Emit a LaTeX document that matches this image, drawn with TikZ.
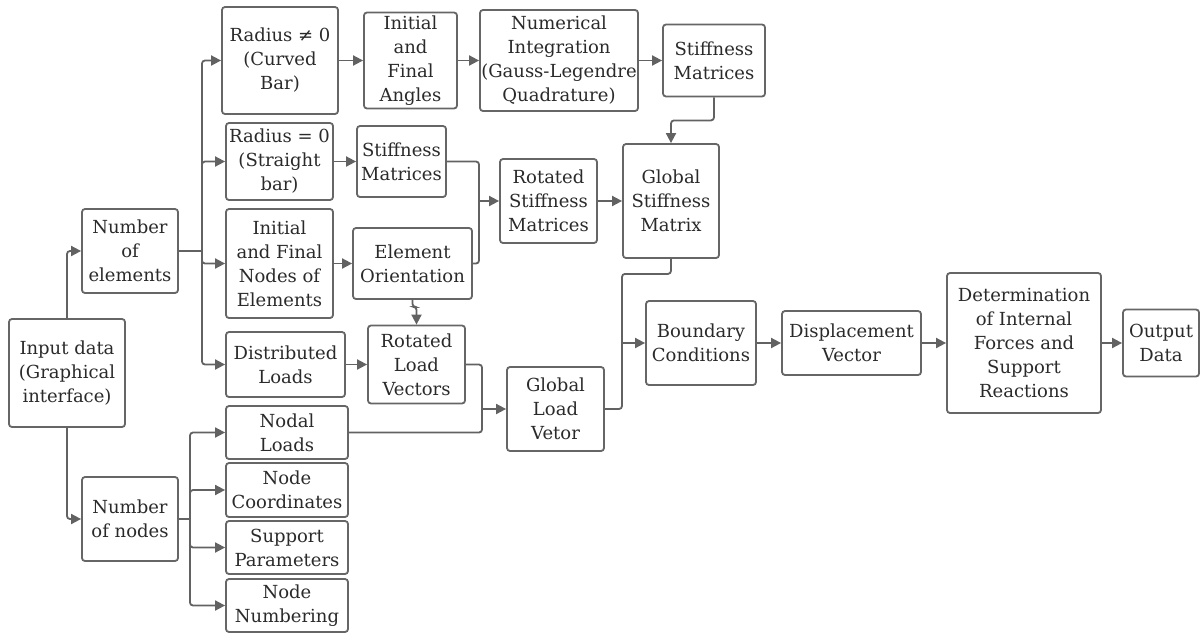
\documentclass[tikz,border=0pt]{standalone}
\usepackage{fontspec}
\setmainfont{DejaVu Serif}
\usetikzlibrary{arrows.meta}
\definecolor{boxline}{HTML}{666666}
\definecolor{txt}{HTML}{2A2A2A}
\definecolor{conncol}{HTML}{626262}
\tikzset{
  box/.style={draw=boxline, line width=1.8pt, rounded corners=3pt, align=center,
    text=txt, inner sep=1pt, font=\fontsize{18}{24}\selectfont},
  link/.style={draw=conncol, line width=1.8pt, rounded corners=3pt},
  conn/.style={link, -{Triangle[length=10pt,width=10pt]}}
}
\begin{document}
\begin{tikzpicture}[x=1pt,y=-1pt]
\useasboundingbox (0,0) rectangle (1204,635);
% nodes
\node[box, minimum width=116pt, minimum height=108pt] (inp) at (67,373) {Input data\\(Graphical\\interface)};
\node[box, minimum width=96pt, minimum height=84pt] (nel) at (130,251) {Number\\of\\elements};
\node[box, minimum width=96pt, minimum height=84pt] (nno) at (130,519) {Number\\of nodes};
\node[box, minimum width=116pt, minimum height=107pt] (r1) at (280,60.5) {Radius ≠ 0\\(Curved\\Bar)};
\node[box, minimum width=107pt, minimum height=77pt] (r0) at (279.5,161.5) {Radius = 0\\(Straight\\bar)};
\node[box, minimum width=107pt, minimum height=109pt] (ifn) at (279.5,263.5) {Initial\\and Final\\Nodes of\\Elements};
\node[box, minimum width=119pt, minimum height=65pt] (dl) at (285.5,364.5) {Distributed\\Loads};
\node[box, minimum width=122pt, minimum height=53pt] (nl) at (287,432.5) {Nodal\\Loads};
\node[box, minimum width=122pt, minimum height=54pt] (nc) at (287,490) {Node\\Coordinates};
\node[box, minimum width=122pt, minimum height=53pt] (sp) at (287,547.5) {Support\\Parameters};
\node[box, minimum width=122pt, minimum height=53pt] (nn) at (287,605.5) {Node\\Numbering};
\node[box, minimum width=93pt, minimum height=96pt] (ia) at (410.5,60.5) {Initial\\and\\Final\\Angles};
\node[box, minimum width=158pt, minimum height=101pt] (ni) at (559,60.5) {Numerical\\Integration\\(Gauss-Legendre\\Quadrature)};
\node[box, minimum width=102pt, minimum height=72pt] (sm1) at (714,60.5) {Stiffness\\Matrices};
\node[box, minimum width=89pt, minimum height=71pt] (sm2) at (401.5,161.5) {Stiffness\\Matrices};
\node[box, minimum width=119pt, minimum height=71pt] (eo) at (412.5,263.5) {Element\\Orientation};
\node[box, minimum width=97pt, minimum height=84pt] (rsm) at (548.5,201) {Rotated\\Stiffness\\Matrices};
\node[box, minimum width=96pt, minimum height=114pt] (gsm) at (671,201) {Global\\Stiffness\\Matrix};
\node[box, minimum width=97pt, minimum height=78pt] (rlv) at (416.5,364.5) {Rotated\\Load\\Vectors};
\node[box, minimum width=97pt, minimum height=84pt] (glv) at (555.5,409) {Global\\Load\\Vetor};
\node[box, minimum width=110pt, minimum height=84pt] (bc) at (701,343) {Boundary\\Conditions};
\node[box, minimum width=139pt, minimum height=64pt] (dv) at (851.5,343) {Displacement\\Vector};
\node[box, minimum width=154pt, minimum height=140pt] (det) at (1024,343) {Determination\\of Internal\\Forces and\\Support\\Reactions};
\node[box, minimum width=76pt, minimum height=67pt] (out) at (1161,343) {Output\\Data};
% junctions
\coordinate (t1) at (202,251);
\coordinate (t2) at (190,519);
\coordinate (j1) at (479,201);
\coordinate (j2) at (482,409);
\coordinate (j3) at (622,343);
% connectors
\draw[conn] (inp.north) |- (nel.west);
\draw[conn] (inp.south) |- (nno.west);
\draw[link] (nel.east) -- (t1);
\draw[conn] (t1) |- (r1.west);
\draw[conn] (t1) |- (r0.west);
\draw[conn] (t1) |- (ifn.west);
\draw[conn] (t1) |- (dl.west);
\draw[link] (nno.east) -- (t2);
\draw[conn] (t2) |- (nl.west);
\draw[conn] (t2) |- (nc.west);
\draw[conn] (t2) |- (sp.west);
\draw[conn] (t2) |- (nn.west);
\draw[conn] (r1) -- (ia);
\draw[conn] (ia) -- (ni);
\draw[conn] (ni) -- (sm1);
\draw[conn] (sm1.south) -- ++(0,23) -| (gsm.north);
\draw[conn] (r0) -- (sm2);
\draw[link] (sm2.east) -| (j1);
\draw[link] (eo.east) -| (j1);
\draw[conn] (j1) -- (rsm.west);
\draw[conn] (ifn) -- (eo);
\draw[conn] (rsm) -- (gsm);
\draw[conn] (eo.south) -- ++(0,7) -| (rlv.north);
\draw[conn] (dl) -- (rlv);
\draw[link] (rlv.east) -| (j2);
\draw[link] (nl.east) -| (j2);
\draw[conn] (j2) -- (glv.west);
\draw[link] (glv.east) -| (j3);
\draw[link] (gsm.south) -- ++(0,15) -| (j3);
\draw[conn] (j3) -- (bc.west);
\draw[conn] (bc) -- (dv);
\draw[conn] (dv) -- (det);
\draw[conn] (det) -- (out);
\end{tikzpicture}
\end{document}
